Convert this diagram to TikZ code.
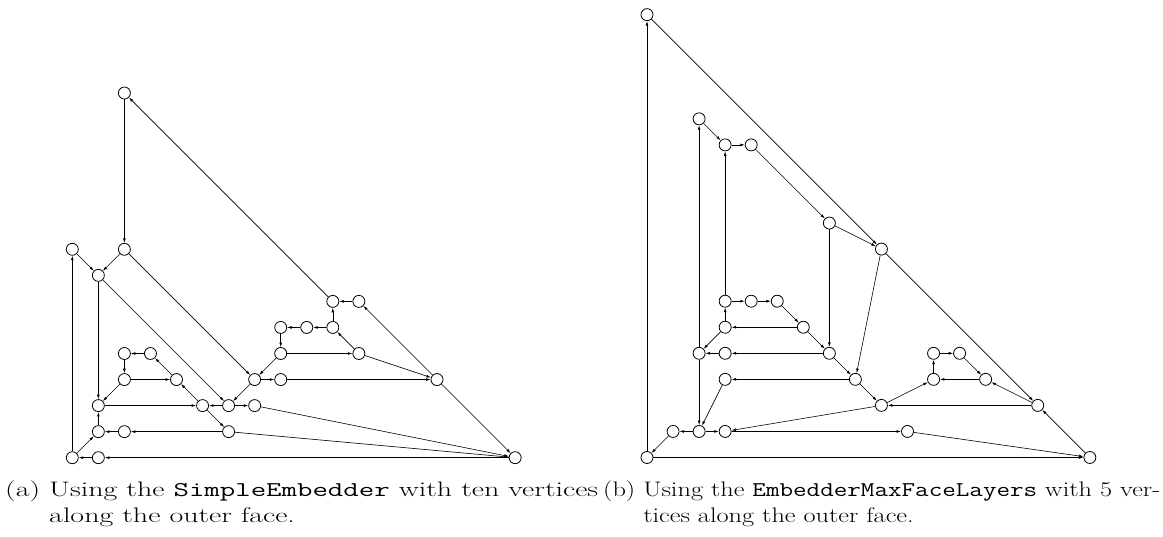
\documentclass[tikz,border=0pt]{standalone}
\usepackage{graphicx}
\usetikzlibrary{arrows.meta}
\begin{document}
\begin{tikzpicture}[x=1pt,y=1pt,
  v/.style={circle,draw,line width=0.8pt,minimum size=12pt,inner sep=0pt,fill=white},
  e/.style={line width=0.6pt,-{Latex[length=4.5pt,width=2.8pt]}},
  captext/.style={anchor=base west,inner sep=0pt,font=\fontsize{21}{26}\selectfont}]
\useasboundingbox (0,0) rectangle (1163,536);
% left graph
\begin{scope}[shift={(72.3,78.3)},x=26.05pt,y=26.05pt]
  \foreach \i/\j in {2/14,0/8,2/8,1/7,2/4,3/4,2/3,4/3,1/2,5/2,6/2,7/2,1/1,2/1,6/1,0/0,1/0,17/0,10/6,11/6,8/5,9/5,10/5,8/4,11/4,7/3,8/3,14/3}
    \node[v] (L\i-\j) at (\i,\j) {};
  \foreach \a/\b in {0-0/0-8,0-8/1-7,2-8/1-7,2-14/2-8,10-6/2-14,2-8/7-3,1-7/6-2,1-7/1-2,3-4/2-4,2-4/2-3,4-3/3-4,2-3/4-3,2-3/1-2,1-2/5-2,6-2/5-2,5-2/4-3,5-2/6-1,7-3/6-2,6-2/7-2,1-1/1-2,0-0/1-1,1-0/0-0,2-1/1-1,6-1/2-1,17-0/1-0,6-1/17-0,7-2/17-0,14-3/17-0,14-3/11-6,11-6/10-6,10-5/10-6,11-4/10-5,10-5/9-5,9-5/8-5,8-5/8-4,8-4/7-3,8-4/11-4,11-4/14-3,7-3/8-3,8-3/14-3}
    \draw[e] (L\a) -- (L\b);
\end{scope}
% right graph
\begin{scope}[shift={(647,78.5)},x=26.05pt,y=26.05pt]
  \foreach \i/\j in {0/17,2/13,3/12,4/12,7/9,9/8,3/6,4/6,5/6,3/5,6/5,2/4,3/4,7/4,3/3,8/3,9/2,11/4,12/4,11/3,13/3,15/2,0/0,1/1,2/1,3/1,10/1,17/0}
    \node[v] (R\i-\j) at (\i,\j) {};
  \foreach \a/\b in {0-0/0-17,0-17/9-8,2-13/3-12,3-12/4-12,4-12/7-9,7-9/9-8,2-4/2-13,3-6/3-12,3-6/4-6,4-6/5-6,5-6/6-5,6-5/3-5,3-5/3-6,3-5/2-4,6-5/7-4,7-9/7-4,7-4/3-4,3-4/2-4,7-4/8-3,9-8/8-3,8-3/3-3,8-3/9-2,3-3/2-1,2-4/2-1,9-2/3-1,2-1/3-1,2-1/1-1,1-1/0-0,0-0/17-0,3-1/10-1,10-1/17-0,17-0/15-2,9-8/15-2,15-2/9-2,9-2/11-3,13-3/11-3,11-3/11-4,11-4/12-4,12-4/13-3,15-2/13-3}
    \draw[e] (R\a) -- (R\b);
\end{scope}
% captions
\node[captext] (capa) at (5,13) {\resizebox{593pt}{\height}{\begin{tabular}[b]{@{}l@{\ }l@{}}(a) & Using the \texttt{SimpleEmbedder} with ten vertices\\ & along the outer face.\end{tabular}}};
\node[captext] (capb) at (603,13) {\resizebox{557pt}{\height}{\begin{tabular}[b]{@{}l@{\ }l@{}}(b) & Using the \texttt{EmbedderMaxFaceLayers} with 5 ver-\\ & tices along the outer face.\end{tabular}}};
\end{tikzpicture}
\end{document}
